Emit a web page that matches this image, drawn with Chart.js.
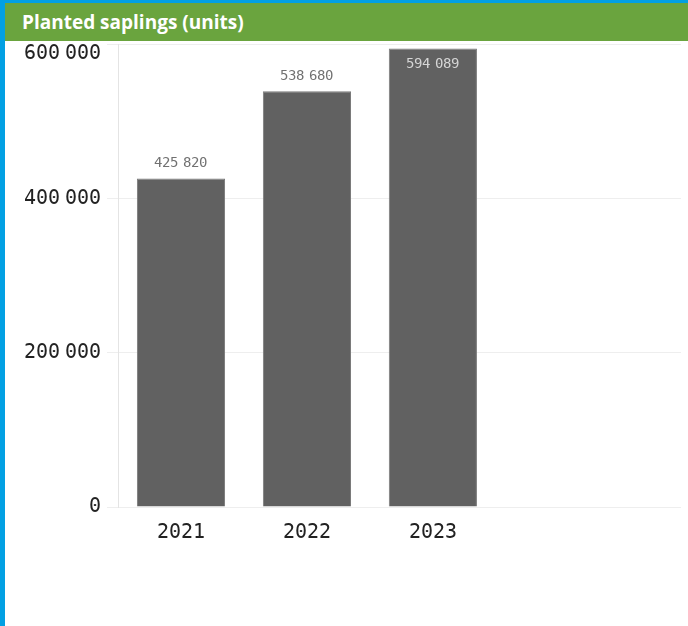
<!DOCTYPE html>
<html>
<head>
<meta charset="utf-8">
<script src="https://cdn.jsdelivr.net/npm/chart.js@4.4.1/dist/chart.umd.min.js"></script>
<style>
  /* monospace digits, but slim spaces between digit groups */
  @font-face {
    font-family: "NumMono";
    src: local("DejaVu Sans Mono"), local("DejaVuSansMono");
    unicode-range: U+0000-1FFF;
  }
  @font-face {
    font-family: "NumMono";
    src: local("DejaVu Sans"), local("DejaVuSans");
    unicode-range: U+2000-200A;
  }
  html, body { margin: 0; padding: 0; background: #fff; }
  .frame {
    position: absolute; left: 0; top: 0; width: 683px; height: 623px;
    border-left: 5px solid #02a0e3; border-top: 3px solid #02a0e3;
  }
  .title {
    height: 38px; background: #6aa43e; color: #fff;
    font: bold 19px "Open Sans", "Noto Sans", sans-serif; line-height: 38px;
    padding-left: 17px; box-sizing: border-box;
  }
  .plot { position: relative; width: 683px; height: 585px; }
</style>
</head>
<body>
<div class="frame">
  <div class="title">Planted saplings (units)</div>
  <div class="plot"><canvas id="saplings" width="683" height="585"></canvas></div>
</div>
<script>
// planted saplings per year
const years = [2021, 2022, 2023]
const planted = [425820, 538680, 594089]
const yTicks = [0, 200000, 400000, 600000]

const MONO = "NumMono, 'DejaVu Sans Mono', monospace"
const SP_TICK = "\u2005"   // four-per-em space
const SP_VALUE = "\u2004"  // three-per-em space

// 600000 -> "600 000"
function fmt (v, sp) {
    return String(v).replace(/\B(?=(\d{3})+(?!\d))/g, sp)
}

// value above each bar, or inside it when there is no room above
const valueLabels = {
    id: "valueLabels",
    afterDatasetsDraw (chart) {
        const ctx = chart.ctx
        const meta = chart.getDatasetMeta(0)
        ctx.save()
        ctx.font = "14px " + MONO
        ctx.textAlign = "center"
        ctx.textBaseline = "middle"
        meta.data.forEach((bar, i) => {
            const inside = bar.y - 26 < chart.chartArea.top
            ctx.fillStyle = inside ? "#d6d6d6" : "#717171"
            ctx.fillText(fmt(planted[i], SP_VALUE), bar.x, inside ? bar.y + 16 : bar.y - 15)
        })
        ctx.restore()
    }
}

// keep the top tick label inside the plot instead of centred on its line
const topTickLabel = {
    id: "topTickLabel",
    beforeDraw (chart) {
        const items = chart.scales.y.getLabelItems()
        const last = items[items.length - 1]
        if (last) last.options.textBaseline = "top"
    }
}

function draw () {
    const config = {
        type: "bar",
        data: {
            datasets: [{
                data: years.map((yr, i) => ({ x: yr, y: planted[i] })),
                backgroundColor: "#616161",
                borderColor: "#7a7a7a",
                borderWidth: 1,
                categoryPercentage: 0.8,
                barPercentage: 0.875,
            }],
        },
        options: {
            responsive: false,
            animation: false,
            layout: { padding: { top: 3, right: 7, bottom: 67, left: 0 } },
            plugins: { legend: { display: false }, tooltip: { enabled: false } },
            scales: {
                x: {
                    type: "linear",
                    offset: false,
                    min: 2020.5,
                    max: 2024.97,
                    afterBuildTicks: (s) => { s.ticks = years.map(v => ({ value: v })) },
                    grid: { display: false, drawTicks: false, offset: false },
                    border: { display: false },
                    ticks: {
                        callback: (v) => String(v),
                        color: "#222",
                        padding: 14,
                        font: { family: MONO, size: 20 },
                    },
                },
                y: {
                    min: 0,
                    max: 600000,
                    afterBuildTicks: (s) => { s.ticks = yTicks.map(v => ({ value: v })) },
                    afterFit: (s) => { s.width = 113; s.paddingTop = 0; s.paddingBottom = 0 },
                    grid: { color: "#eeeeee", tickLength: 11 },
                    border: { color: "#e4e4e4" },
                    ticks: {
                        callback: (v) => fmt(v, SP_TICK),
                        color: "#222",
                        padding: 6,
                        font: { family: MONO, size: 20 },
                    },
                },
            },
        },
        plugins: [valueLabels, topTickLabel],
    }
    return new Chart(document.getElementById("saplings").getContext("2d"), config)
}

// the canvas only sees a font once it is loaded
Promise.all([
    document.fonts.load("20px NumMono", "0" + SP_TICK),
    document.fonts.load("14px NumMono", "0" + SP_VALUE),
]).then(draw, draw)
</script>
</body>
</html>
